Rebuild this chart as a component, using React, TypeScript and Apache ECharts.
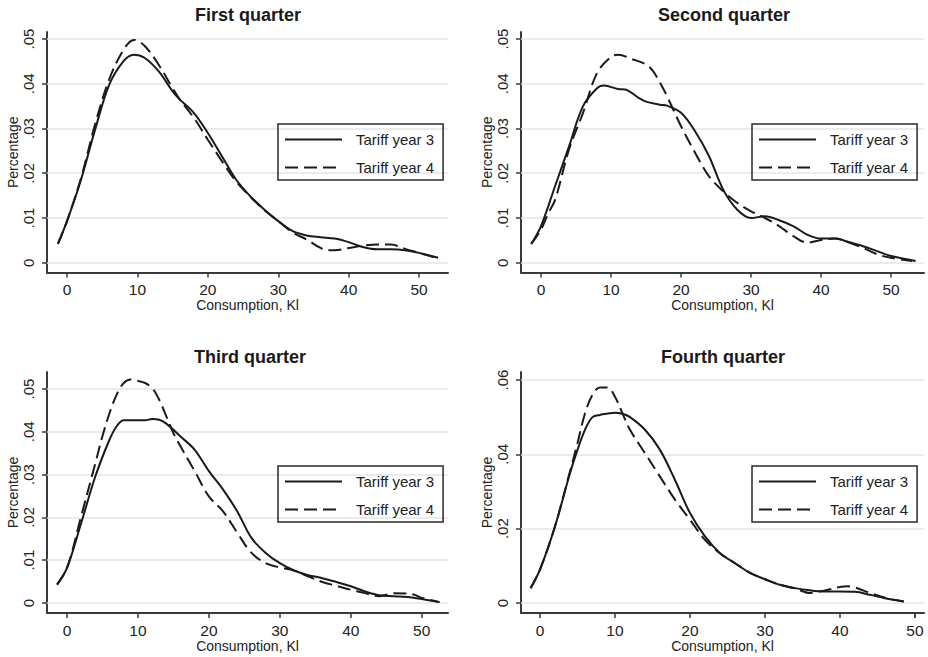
import React, { useEffect, useRef } from "react";
import * as echarts from "echarts";

// ---- Data ----
const panelTitles = ["First quarter", "Second quarter", "Third quarter", "Fourth quarter"];
const seriesNames = ["Tariff year 3", "Tariff year 4"];
const xTicks = [0, 10, 20, 30, 40, 50];
const yTicksA = [0, 0.01, 0.02, 0.03, 0.04, 0.05];
const yTicksB = [0, 0.02, 0.04, 0.06];

const q1Year3 = [
  [-1.3, 0.0042], [0, 0.0093], [2, 0.0186], [4, 0.0298], [6, 0.0398], [8, 0.045], [9.5, 0.0465],
  [11, 0.0458], [13, 0.0428], [15, 0.0383], [16, 0.0365], [18, 0.0335], [20, 0.029], [22, 0.0238],
  [24, 0.0186], [26, 0.0149], [28, 0.0119], [30, 0.0093], [32, 0.0071], [34, 0.0061], [36, 0.0057],
  [38, 0.0054], [40, 0.0046], [42, 0.0035], [44, 0.003], [46, 0.003], [48, 0.0028], [50, 0.0022],
  [52.7, 0.0011],
];
const q1Year4 = [
  [-1.3, 0.0042], [0, 0.0093], [2, 0.019], [4, 0.031], [6, 0.041], [8, 0.0475], [9.5, 0.0498],
  [11, 0.0485], [13, 0.0443], [15, 0.039], [16, 0.0365], [18, 0.0324], [20, 0.0275], [22, 0.0227],
  [24, 0.0182], [26, 0.0148], [28, 0.0118], [30, 0.0093], [32, 0.0068], [34, 0.0052], [36, 0.0033],
  [37, 0.0028], [38, 0.0028], [40, 0.0033], [42, 0.0038], [44, 0.0041], [46, 0.0041], [48, 0.0031],
  [50, 0.0022], [52, 0.0013], [52.7, 0.0011],
];
const q2Year3 = [
  [-1.4, 0.0042], [0, 0.0082], [2, 0.0171], [4, 0.026], [6, 0.035], [8, 0.039], [9, 0.0396],
  [11, 0.0388], [12, 0.0387], [14, 0.0368], [15, 0.036], [17, 0.0353], [18, 0.0351], [20, 0.0335],
  [22, 0.0294], [24, 0.0238], [26, 0.0164], [28, 0.0119], [30, 0.01], [32, 0.0104], [34, 0.0095],
  [36, 0.0082], [38, 0.0063], [40, 0.0054], [42, 0.0054], [44, 0.0046], [46, 0.0037], [48, 0.0026],
  [50, 0.0015], [53.5, 0.0004],
];
const q2Year4 = [
  [-1.4, 0.0042], [0, 0.0074], [1, 0.011], [2, 0.014], [4, 0.0253], [6, 0.0335], [8, 0.0424],
  [10, 0.046], [11, 0.0465], [13, 0.0455], [15, 0.0443], [16, 0.0428], [17, 0.0402], [18, 0.0372],
  [20, 0.0305], [22, 0.0246], [24, 0.0193], [26, 0.016], [28, 0.0134], [30, 0.0115], [32, 0.01],
  [34, 0.0082], [36, 0.006], [38, 0.0045], [40, 0.0051], [42, 0.0054], [44, 0.0045], [46, 0.0033],
  [48, 0.0019], [50, 0.0011], [53, 0.0004],
];
const q3Year3 = [
  [-1.4, 0.0043], [0, 0.0082], [2, 0.0187], [4, 0.0296], [6, 0.0382], [7, 0.0413], [8, 0.0427],
  [10, 0.0427], [11, 0.0427], [12, 0.043], [13, 0.0428], [14, 0.0419], [16, 0.0389], [18, 0.0358],
  [20, 0.0308], [22, 0.0265], [24, 0.0214], [26, 0.0152], [28, 0.0117], [30, 0.0093], [32, 0.0076],
  [34, 0.0065], [36, 0.0058], [38, 0.0049], [40, 0.0039], [42, 0.0027], [44, 0.0018], [46, 0.0016],
  [48, 0.0014], [50, 0.0009], [52.5, 0.0002],
];
const q3Year4 = [
  [-1.4, 0.0043], [0, 0.0082], [2, 0.0203], [4, 0.0327], [5, 0.039], [6, 0.0444], [7, 0.0487],
  [8, 0.0514], [9, 0.0522], [10, 0.0519], [11, 0.0514], [12, 0.0502], [13, 0.0475], [14, 0.0436],
  [15, 0.0397], [16, 0.0366], [18, 0.0308], [20, 0.0249], [22, 0.0214], [24, 0.0164], [26, 0.0117],
  [28, 0.0093], [30, 0.0083], [32, 0.0076], [34, 0.0062], [36, 0.0049], [38, 0.004], [40, 0.0031],
  [42, 0.0023], [44, 0.0016], [45, 0.0019], [46, 0.0023], [48, 0.0022], [49, 0.0019], [50, 0.0012],
  [52.5, 0.0002],
];
const q4Year3 = [
  [-1.25, 0.004], [0, 0.009], [2, 0.0206], [4, 0.0349], [5, 0.0412], [6, 0.0466], [7, 0.05],
  [8, 0.0506], [10, 0.0512], [11, 0.0509], [12, 0.05], [14, 0.0466], [16, 0.0412], [18, 0.0331],
  [20, 0.0242], [22, 0.0179], [24, 0.0134], [26, 0.0107], [28, 0.0081], [30, 0.0064], [32, 0.0049],
  [34, 0.004], [36, 0.0034], [38, 0.0031], [40, 0.0031], [42, 0.003], [44, 0.0022], [46, 0.0013],
  [48.5, 0.0004],
];
const q4Year4 = [
  [-1.25, 0.004], [0, 0.009], [2, 0.0206], [4, 0.0354], [5, 0.043], [6, 0.051], [7, 0.056],
  [8, 0.058], [9, 0.058], [10, 0.0555], [11, 0.051], [12, 0.0466], [14, 0.0403], [16, 0.034],
  [18, 0.0278], [20, 0.0224], [22, 0.017], [24, 0.0134], [26, 0.0107], [28, 0.0081], [30, 0.0064],
  [32, 0.0049], [34, 0.0039], [36, 0.0027], [38, 0.0034], [40, 0.0043], [41, 0.0045], [42, 0.0042],
  [44, 0.0027], [46, 0.0014], [48.5, 0.0004],
];

const panelData = [
  [q1Year3, q1Year4],
  [q2Year3, q2Year4],
  [q3Year3, q3Year4],
  [q4Year3, q4Year4],
];
const panelYTicks = [yTicksA, yTicksA, yTicksA, yTicksB];

// ---- Layout ----
const grids = [
  { left: 47, top: 32, width: 401, height: 240.5 },
  { left: 521, top: 32, width: 403, height: 240.5 },
  { left: 47, top: 372, width: 401, height: 241 },
  { left: 521, top: 372, width: 403, height: 241 },
];
const xRanges = [
  [-2.84, 54.1],
  [-2.86, 54.7],
  [-2.82, 53.7],
  [-2.53, 51.2],
];
const yRanges = [
  [-0.00218, 0.05156],
  [-0.00218, 0.05156],
  [-0.00234, 0.05397],
  [-0.00269, 0.06215],
];
const titlePos = [
  [248, 6],
  [724, 6],
  [250, 348],
  [723, 348],
];
const legendPos = [
  [278, 124],
  [752, 124],
  [278, 466],
  [752, 466],
];

const FONT = "'Liberation Sans', Arial, sans-serif";
const TEXT = "#222";
const AXIS = "#3a3a3a";
const X_LABEL_SIZE = 15.5;
const X_LABEL_MARGIN = 9;
const TICK_LEN = 5;

function fmtY(v: number) {
  if (v === 0) return "0";
  return v.toFixed(2).replace(/^0/, "");
}

export default function App() {
  const ref = useRef<HTMLDivElement>(null);
  useEffect(() => {
    document.body.style.margin = "0";
    if (!ref.current) return;
    const chart = echarts.init(ref.current, undefined, { renderer: "svg" });

    // The last custom x label of the fourth panel is dropped by ECharts because it
    // sits very close to the end of the axis; it is added as a text element instead,
    // at the same spot as the axis would place it.
    const lastX = xTicks[xTicks.length - 1];
    const xLabelTicks = grids.map((_, i) => (i === 3 ? xTicks.slice(0, -1) : xTicks));
    const g4 = grids[3];
    const r4 = xRanges[3];
    const lastPx = g4.left + ((lastX - r4[0]) / (r4[1] - r4[0])) * g4.width;
    const axisPy = g4.top + g4.height;

    const grid = grids.map((g) => ({ ...g, containLabel: false, outerBoundsMode: "none" }));
    const xAxis = grids.map((_, i) => ({
      type: "value",
      gridIndex: i,
      min: xRanges[i][0],
      max: xRanges[i][1],
      name: "Consumption, Kl",
      nameLocation: "middle",
      nameGap: 24,
      nameTextStyle: { fontFamily: FONT, fontSize: 14, color: TEXT },
      axisLine: { show: true, onZero: false, lineStyle: { color: AXIS, width: 2 } },
      axisTick: { show: true, length: TICK_LEN, customValues: xTicks, lineStyle: { color: AXIS, width: 1.5 } },
      axisLabel: {
        customValues: xLabelTicks[i],
        showMinLabel: true,
        showMaxLabel: true,
        hideOverlap: false,
        margin: X_LABEL_MARGIN,
        fontFamily: FONT,
        fontSize: X_LABEL_SIZE,
        color: TEXT,
      },
      splitLine: { show: false },
    }));
    const yAxis = grids.map((_, i) => ({
      type: "value",
      gridIndex: i,
      min: yRanges[i][0],
      max: yRanges[i][1],
      name: "Percentage",
      nameLocation: "middle",
      nameGap: 26,
      nameTextStyle: { fontFamily: FONT, fontSize: 14, color: TEXT },
      axisLine: { show: true, onZero: false, lineStyle: { color: AXIS, width: 2 } },
      axisTick: { show: true, length: TICK_LEN, customValues: panelYTicks[i], lineStyle: { color: AXIS, width: 1.5 } },
      axisLabel: {
        customValues: panelYTicks[i],
        showMinLabel: true,
        showMaxLabel: true,
        rotate: 90,
        margin: 11,
        fontFamily: FONT,
        fontSize: 15,
        color: TEXT,
        formatter: (v: number) => fmtY(v),
      },
      splitLine: { show: false },
    }));

    const series: any[] = [];
    panelData.forEach((pair, i) => {
      series.push({
        type: "line",
        name: "gridlines",
        xAxisIndex: i,
        yAxisIndex: i,
        data: [],
        silent: true,
        z: 1,
        markLine: {
          silent: true,
          symbol: "none",
          z: 1,
          label: { show: false },
          lineStyle: { color: "#e4e4e4", width: 1.5, type: "solid" },
          data: panelYTicks[i].map((v) => ({ yAxis: v })),
        },
      });
      pair.forEach((d, k) => {
        series.push({
          type: "line",
          name: seriesNames[k],
          xAxisIndex: i,
          yAxisIndex: i,
          data: d,
          smooth: 0.35,
          symbol: "none",
          z: 3,
          lineStyle: {
            color: "#1a1a1a",
            width: 2,
            type: k === 0 ? "solid" : [13, 6],
          },
          itemStyle: { color: "#1a1a1a" },
        });
      });
    });

    const title = panelTitles.map((t, i) => ({
      text: t,
      left: titlePos[i][0],
      top: titlePos[i][1],
      textAlign: "center",
      padding: 0,
      textStyle: { fontFamily: FONT, fontSize: 18, fontWeight: "bold", color: "#1a1a1a" },
    }));

    const legend = legendPos.map((p) => ({
      data: seriesNames,
      orient: "vertical",
      left: p[0],
      top: p[1],
      padding: [8, 9, 5, 6],
      itemWidth: 57,
      itemHeight: 14,
      itemGap: 13,
      borderColor: "#2a2a2a",
      borderWidth: 1.5,
      selectedMode: false,
      itemStyle: { opacity: 0, color: "rgba(0,0,0,0)", borderWidth: 0 },
      textStyle: { fontFamily: FONT, fontSize: 15, color: TEXT, padding: [0, 0, 0, 9] },
    }));

    const graphic = [
      {
        type: "line",
        silent: true,
        z: 100,
        shape: { x1: lastPx, y1: axisPy, x2: lastPx, y2: axisPy + TICK_LEN },
        style: { stroke: AXIS, lineWidth: 1.5 },
      },
      {
        type: "text",
        silent: true,
        z: 100,
        x: lastPx,
        y: axisPy + X_LABEL_MARGIN,
        style: {
          text: String(lastX),
          font: `${X_LABEL_SIZE}px ${FONT}`,
          fill: TEXT,
          align: "center",
          verticalAlign: "top",
        },
      },
    ];

    chart.setOption({
      animation: false,
      backgroundColor: "#ffffff",
      title,
      legend,
      grid,
      xAxis,
      yAxis,
      series,
      graphic,
    });
    return () => chart.dispose();
  }, []);
  return <div ref={ref} style={{ width: 928, height: 657 }} />;
}
